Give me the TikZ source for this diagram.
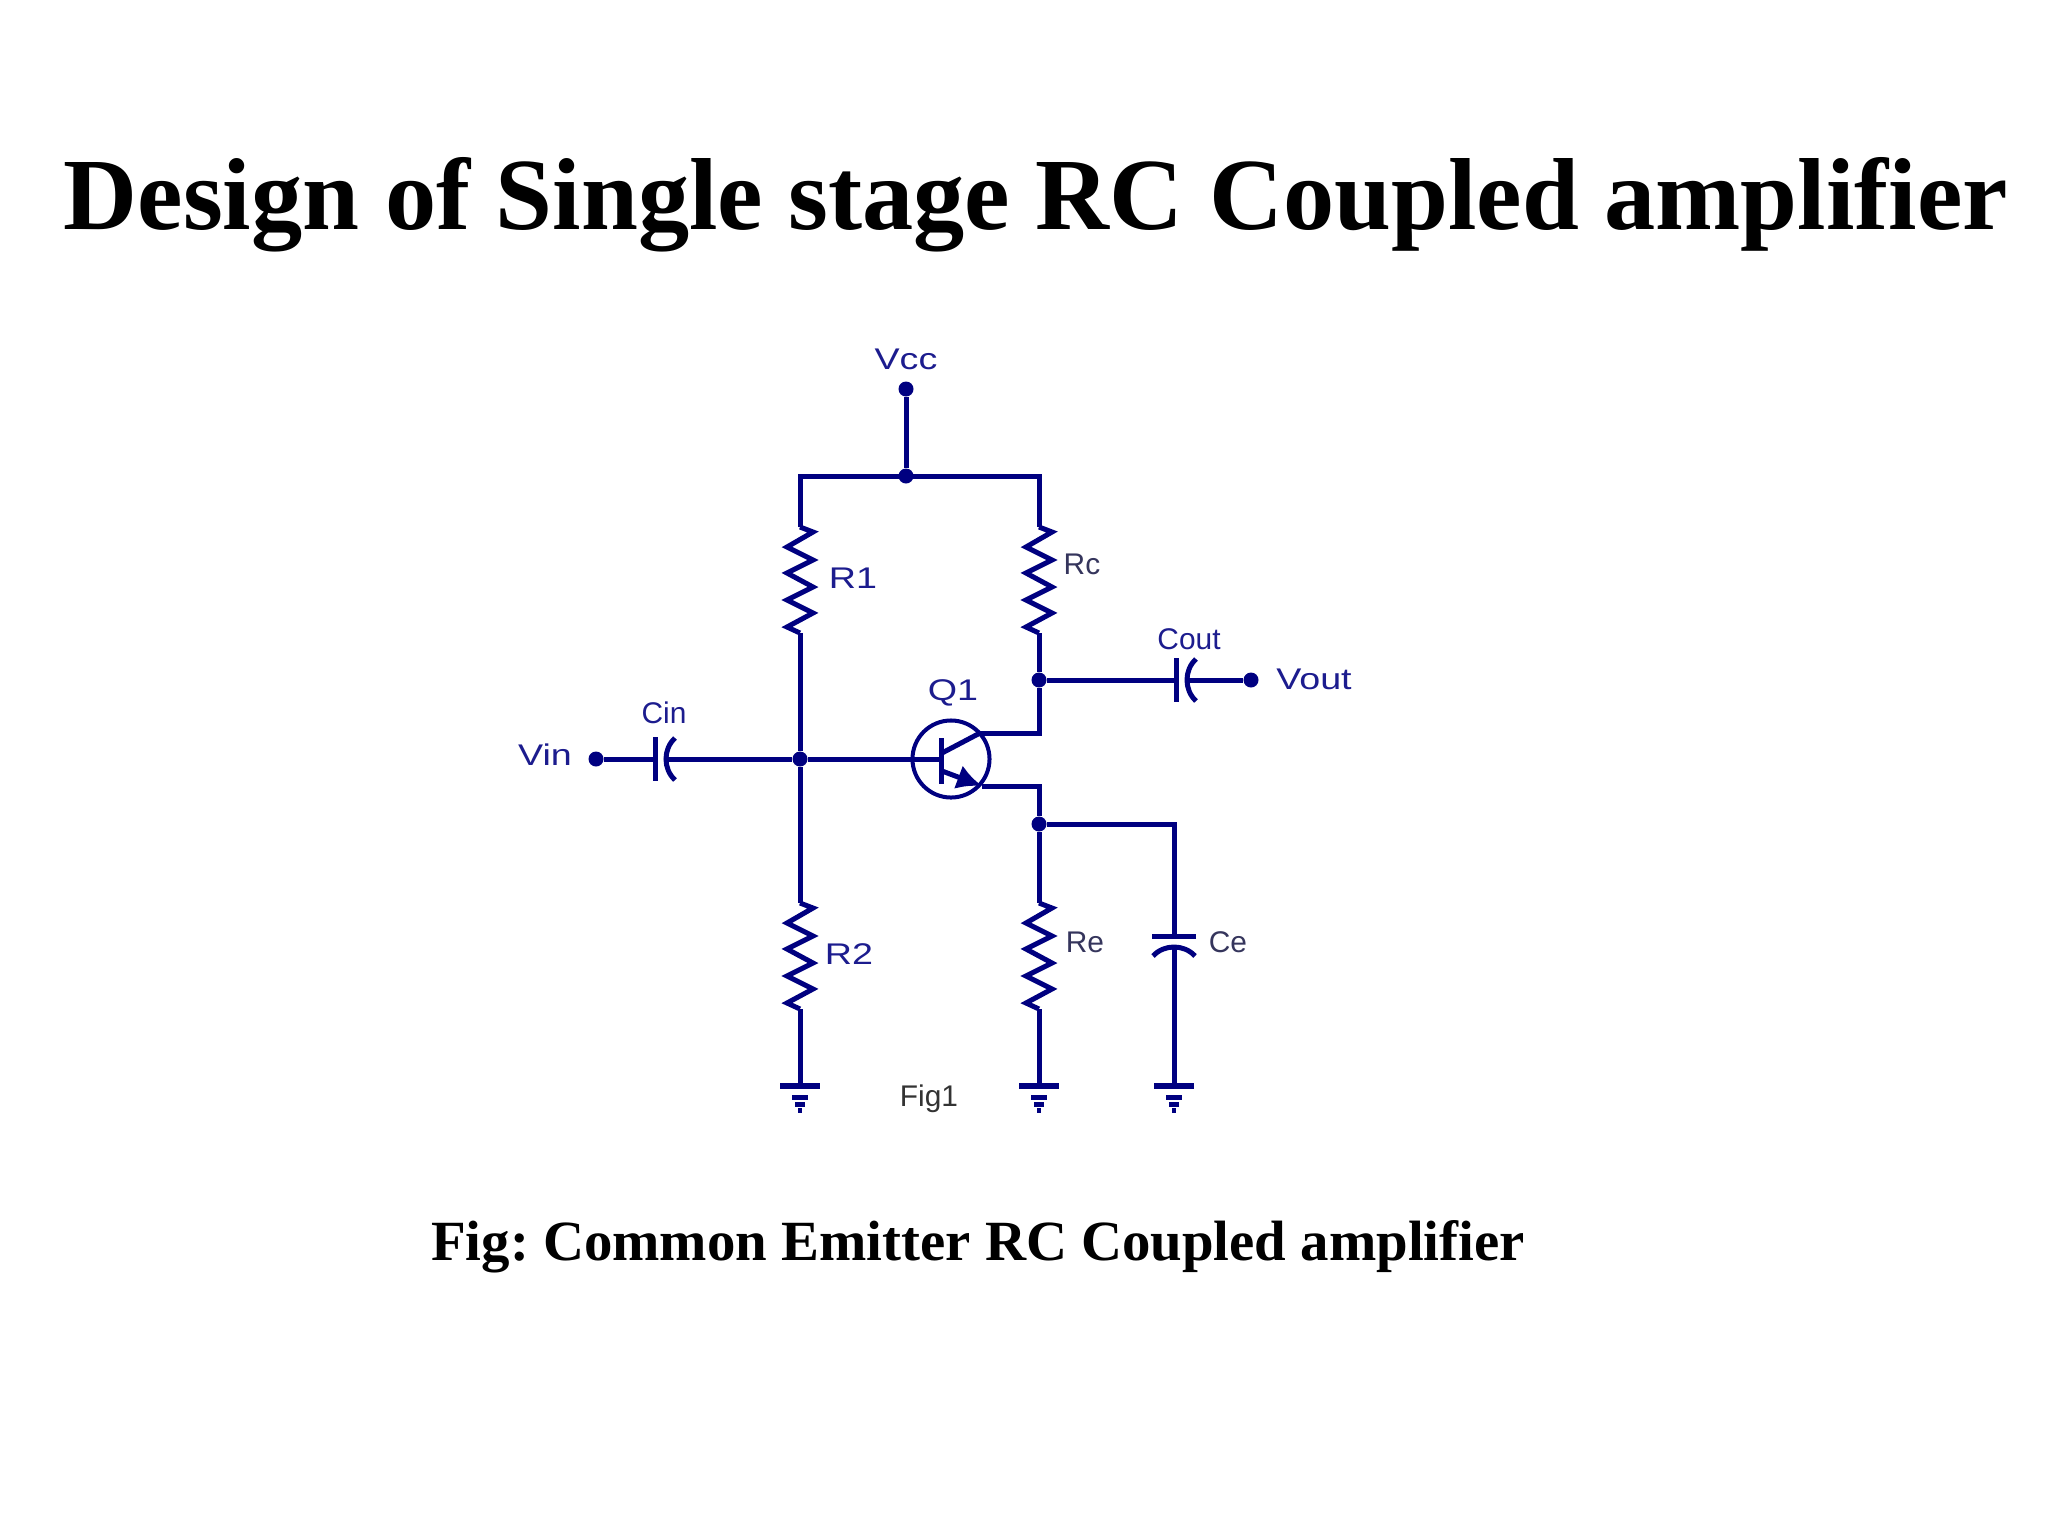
\documentclass[tikz,border=0pt]{standalone}
\usepackage{fontspec}
\setmainfont{Liberation Serif}
\newfontfamily\labelfont{Liberation Sans}
\usetikzlibrary{arrows.meta}
\definecolor{wirecol}{HTML}{000080}
\definecolor{labelcol}{HTML}{1C1C8E}
\definecolor{darkcol}{HTML}{35355C}
\definecolor{figcol}{HTML}{333333}
\tikzset{
    wire/.style={draw=wirecol,line width=0.05cm,line join=miter},
    junction/.style={circle,fill=wirecol,inner sep=0pt,minimum size=0.15cm},
    terminal/.style={circle,fill=wirecol,inner sep=0pt,minimum size=0.15cm},
    lab/.style={inner sep=0pt,text=labelcol,font=\labelfont\fontsize{8.5}{10}\selectfont},
    widelab/.style={lab,xscale=1.26},
    darklab/.style={lab,text=darkcol},
    resistor/.pic={
        \draw[wire] (0,-53) coordinate (-a) -- (13,-48) -- (-13,-33) -- (13,-20) -- (-13,-7) -- (13,7) -- (-13,20) -- (13,33) -- (-13,47) -- (0,53) coordinate (-b);
    },
    capacitor/.pic={
        \coordinate (-a) at (0,0);
        \coordinate (-b) at (10,0);
        \draw[wire] (0,-22) -- (0,22);
        \draw[wire] (20,-21) .. controls (8,-10) and (8,10) .. (20,21);
    },
    ground/.pic={
        \coordinate (-a) at (0,0);
        \draw[wire,line width=0.055cm] (-20,0) -- (20,0);
        \draw[wire] (-8,11) -- (8,11);
        \draw[wire] (-5,18) -- (5,18);
        \draw[wire] (-2,24) -- (2,24);
    }
}
\begin{document}
\begin{tikzpicture}[x=0.01cm,y=-0.01cm]
    \useasboundingbox (0,0) rectangle (2048,1536);
    % heading and caption
    \node[inner sep=0pt,font=\bfseries\fontsize{29.1}{34}\selectfont] (title) at (1036,205) {Design of Single stage RC Coupled amplifier};
    \node[inner sep=0pt,font=\bfseries\fontsize{16.16}{20}\selectfont\frenchspacing] (caption) at (978,1247) {Fig: Common Emitter RC Coupled amplifier};
    % terminals and junctions
    \node[terminal] (vcc) at (906,389) {};
    \node[junction] (jtop) at (906,476) {};
    \node[junction] (jbase) at (800,759) {};
    \node[junction] (jout) at (1039,680) {};
    \node[junction] (jemit) at (1039,824) {};
    \node[terminal] (vin) at (596,759) {};
    \node[terminal] (vout) at (1251,680) {};
    % corners
    \coordinate (cleft) at (800,476);
    \coordinate (cright) at (1039,476);
    \coordinate (ccoll) at (1039,733);
    \coordinate (cemit) at (1039,786);
    \coordinate (cbyp) at (1174,824);
    % parts
    \pic (rone) at (800,580) {resistor};
    \pic (rc) at (1039,580) {resistor};
    \pic (rtwo) at (800,956) {resistor};
    \pic (re) at (1039,956) {resistor};
    \pic (cin) at (655,759) {capacitor};
    \pic (cout) at (1176,680) {capacitor};
    \pic[rotate=-90] (ce) at (1174,936) {capacitor};
    \pic (gone) at (800,1086) {ground};
    \pic (gtwo) at (1039,1086) {ground};
    \pic (gthree) at (1174,1086) {ground};
    % transistor
    \node[circle,draw=wirecol,line width=0.04cm,inner sep=0pt,minimum size=0.77cm] (qone) at (951,759) {};
    \coordinate (qbase) at (941,759);
    \coordinate (qcol) at (980,733);
    \coordinate (qemit) at (982,786);
    \draw[wire] (941,738) -- (941,784);
    \draw[wire] (942,753) -- (qcol);
    \draw[wire,-{Latex[length=0.25cm,width=0.25cm]}] (942,771) -- (qemit);
    % wiring
    \draw[wire] (vcc) -- (jtop);
    \draw[wire] (rone-a) -- (cleft) -- (cright) -- (rc-a);
    \draw[wire] (rone-b) -- (jbase) -- (rtwo-a);
    \draw[wire] (rtwo-b) -- (gone-a);
    \draw[wire] (vin) -- (cin-a);
    \draw[wire] (cin-b) -- (jbase) -- (qbase);
    \draw[wire] (rc-b) -- (jout) -- (ccoll) -- (qcol);
    \draw[wire] (jout) -- (cout-a);
    \draw[wire] (cout-b) -- (vout);
    \draw[wire] (qemit) -- (cemit) -- (jemit) -- (re-a);
    \draw[wire] (re-b) -- (gtwo-a);
    \draw[wire] (jemit) -- (cbyp) -- (ce-a);
    \draw[wire] (ce-b) -- (gthree-a);
    % labels
    \node[widelab] (lvcc) at (906,359) {Vcc};
    \node[widelab] (lrone) at (853,578) {R1};
    \node[darklab] (lrc) at (1082,564) {Rc};
    \node[lab] (lcout) at (1189,639) {Cout};
    \node[widelab] (lvout) at (1314,679) {Vout};
    \node[widelab] (lqone) at (953,693) {Q1};
    \node[lab] (lcin) at (664,713) {Cin};
    \node[widelab] (lvin) at (545,755) {Vin};
    \node[widelab] (lrtwo) at (849,954) {R2};
    \node[darklab] (lre) at (1085,942) {Re};
    \node[darklab] (lce) at (1228,942) {Ce};
    \node[lab,text=figcol] (lfig) at (929,1099) {Fig1};
\end{tikzpicture}
\end{document}
